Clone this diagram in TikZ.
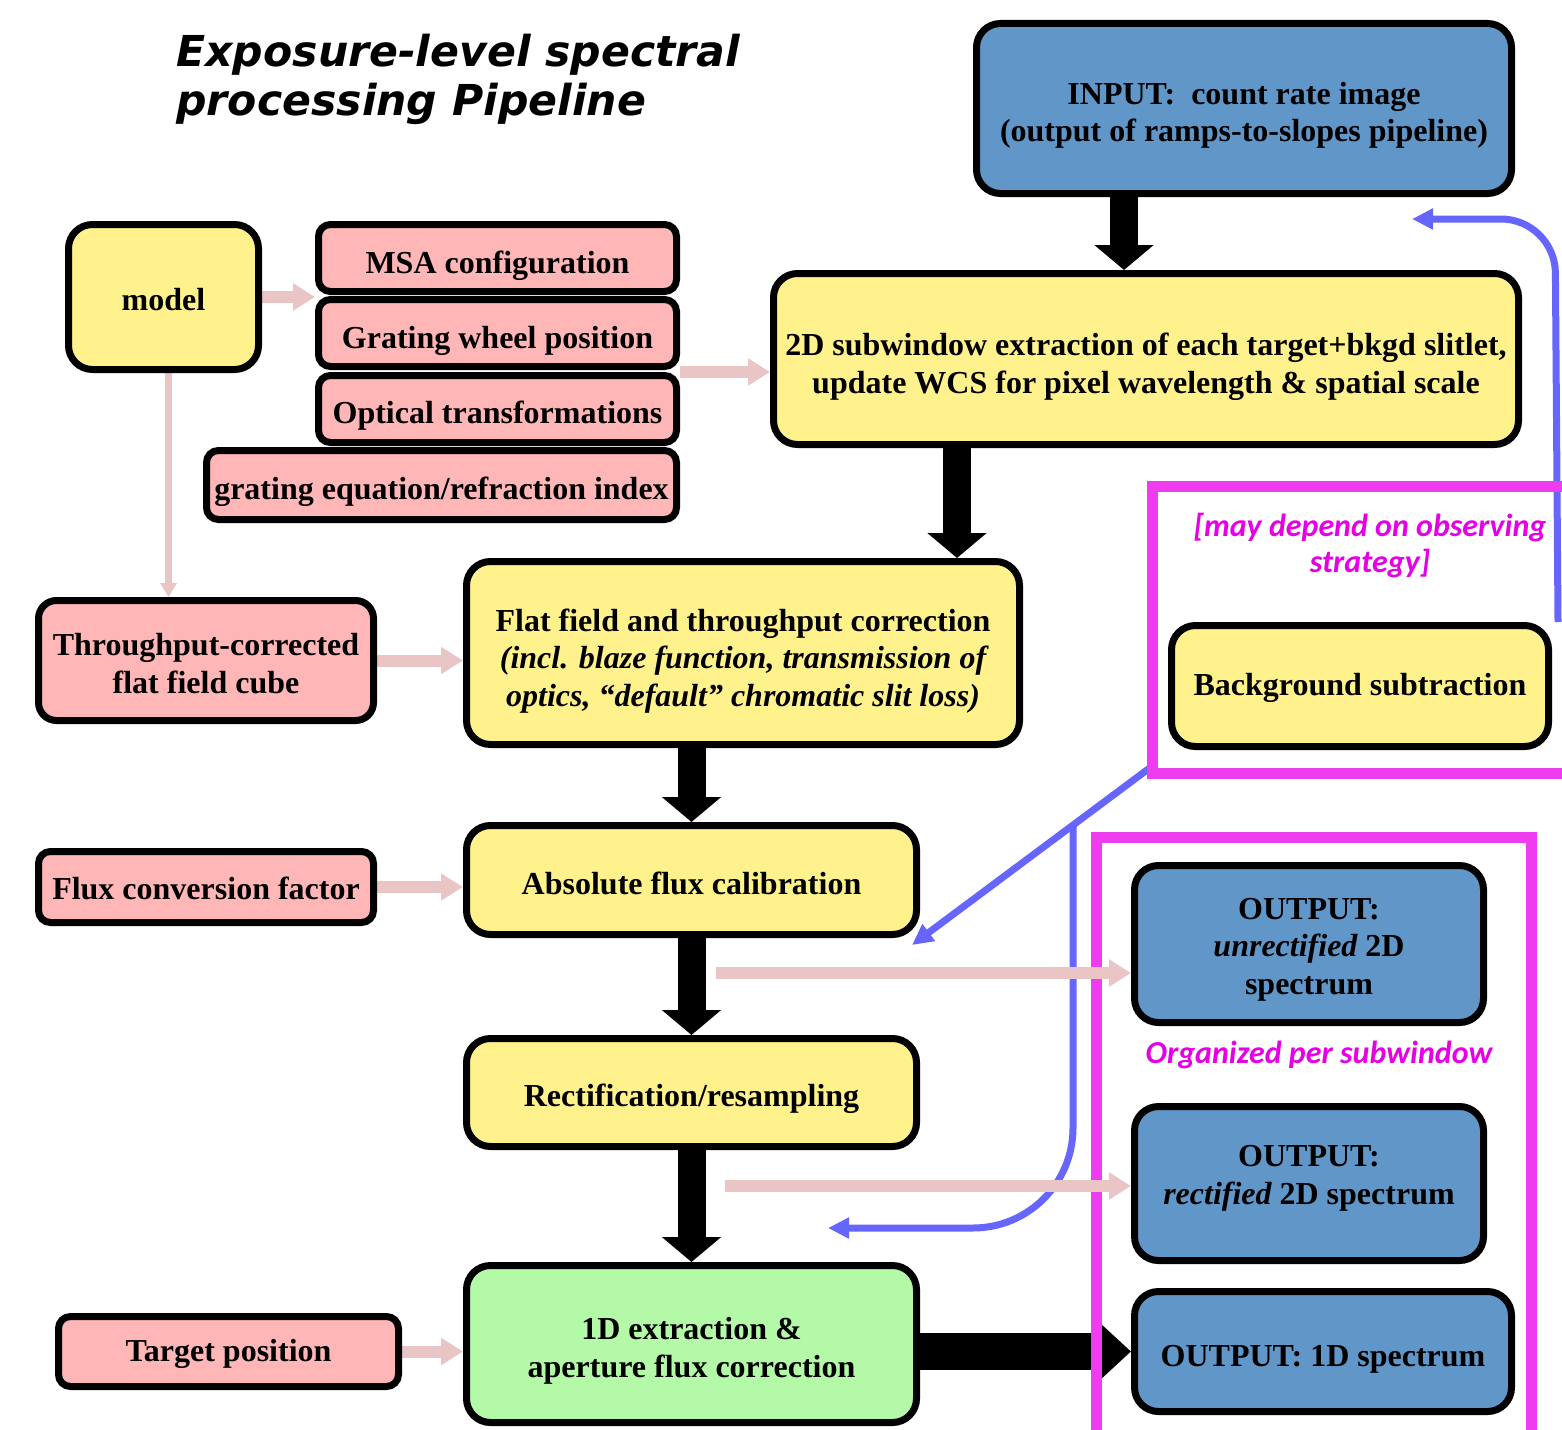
\documentclass[tikz,border=0pt]{standalone}
\usepackage{fontspec}
\setmainfont{Liberation Serif}
\newfontfamily\titlefont{DejaVu Sans}
\newfontfamily\calfont{Carlito}
\usetikzlibrary{arrows.meta}
\pgfdeclarelayer{back}
\pgfsetlayers{back,main}
\definecolor{yel}{HTML}{FFF28C}
\definecolor{pnk}{HTML}{FFB6B6}
\definecolor{blu}{HTML}{6096C8}
\definecolor{grn}{HTML}{B4F9A8}
\definecolor{pka}{HTML}{E9C5C5}
\definecolor{magl}{HTML}{EE3DEE}
\definecolor{magt}{HTML}{E600E6}
\definecolor{bla}{HTML}{6666FF}
\newcommand\boxfont{\fontsize{16}{18.8}\selectfont\bfseries}
% lower the text of a box by #1 px (adds height to the first line)
\newcommand\dn[1]{\rule{0pt}{\dimexpr 11pt+#1pt\relax}}
\tikzset{
  box/.style={draw=black, line width=3.5pt, rounded corners=12pt, align=center, inner sep=0pt, font=\boxfont},
  ybox/.style={box, fill=yel},
  pbox/.style={box, fill=pnk, rounded corners=6pt},
  bbox/.style={box, fill=blu},
  gbox/.style={box, fill=grn},
  blk/.style={draw=black, line width=14pt, -{Triangle[length=12.5pt,width=29pt]}},
  bigblk/.style={draw=black, line width=18.5pt, -{Triangle[length=18pt,width=32pt]}},
  pk/.style={draw=pka, line width=6pt, -{Triangle[length=11pt,width=13pt]}},
  pkthin/.style={draw=pka, line width=3.5pt, -{Triangle[length=7pt,width=8pt]}},
  bl/.style={draw=bla, line width=3.5pt, -{Triangle[length=10.5pt,width=10pt]}},
  magbox/.style={draw=magl, line width=5.5pt},
  magtext/.style={text=magt, align=center, inner sep=0pt, font=\calfont\bfseries\itshape\fontsize{16}{18}\selectfont},
}
\begin{document}
\begin{tikzpicture}[x=0.5pt,y=-0.5pt]
\useasboundingbox (0,0) rectangle (1562,1429);
\clip (0,0) rectangle (1562,1429);

% title
\node[anchor=north west, align=left, inner sep=0pt, font=\titlefont\bfseries\itshape\fontsize{21.3}{24.5}\selectfont] (title) at (176,34) {Exposure-level spectral\\processing Pipeline};

% boxes
\node[bbox, minimum width=267.5pt, minimum height=85pt] (inp) at (1244,108.5) {\dn{7}INPUT:\ \ count rate image\\(output of ramps-to-slopes pipeline)};
\node[ybox, minimum width=372.5pt, minimum height=85.5pt] (ext) at (1146,359) {\dn{8}2D subwindow extraction of each target+bkgd slitlet,\\update WCS for pixel wavelength \& spatial scale};
\node[ybox, minimum width=95pt, minimum height=72.5pt] (model) at (163.5,297) {\dn{3}model};
\node[pbox, minimum width=179pt, minimum height=33.5pt] (msa) at (497.5,258) {\dn{8}MSA configuration};
\node[pbox, minimum width=179pt, minimum height=33.5pt] (gw) at (497.5,333) {\dn{8}Grating wheel position};
\node[pbox, minimum width=179pt, minimum height=33.5pt] (opt) at (497.5,409) {\dn{7}Optical transformations};
\node[pbox, minimum width=235pt, minimum height=34.5pt] (geq) at (441.5,485) {\dn{7}grating equation/refraction index};
\node[pbox, rounded corners=9pt, minimum width=167.5pt, minimum height=60pt] (tfc) at (206,660.5) {\dn{3}Throughput-corrected\\flat field cube};
\node[ybox, minimum width=276.5pt, minimum height=91.5pt] (flat) at (743,653) {\dn{8}Flat field and throughput correction\\{\itshape (incl. blaze function, transmission of}\\{\itshape optics, “default” chromatic slit loss)}};
\node[ybox, minimum width=225pt, minimum height=54.5pt] (abs) at (691.5,880) {\dn{4}Absolute flux calibration};
\node[pbox, minimum width=167.5pt, minimum height=35.5pt] (fcf) at (206,887) {\dn{2}Flux conversion factor};
\node[ybox, minimum width=225pt, minimum height=54pt] (rect) at (691.5,1092.5) {\dn{7}Rectification/resampling};
\node[gbox, minimum width=225pt, minimum height=78.5pt] (oned) at (691.5,1344) {\dn{7}1D extraction \&\\aperture flux correction};
\node[pbox, minimum width=170pt, minimum height=35pt] (tpos) at (228.5,1351.5) {\dn{3}Target position};
\node[bbox, minimum width=174.5pt, minimum height=78.5pt] (outu) at (1309,944) {\dn{5}OUTPUT:\\{\itshape unrectified} 2D\\spectrum};
\node[bbox, minimum width=174.5pt, minimum height=77pt] (outr) at (1309,1183.5) {OUTPUT:\\{\itshape rectified} 2D spectrum\rule[-8.5pt]{0pt}{8.5pt}};
\node[bbox, minimum width=188.5pt, minimum height=60pt] (outone) at (1323,1351.5) {\dn{7}OUTPUT: 1D spectrum};
\node[ybox, minimum width=188.5pt, minimum height=60.5pt] (bg) at (1360,686) {\dn{2}Background subtraction};

% magenta notes
\node[magtext] (note1) at (1370,546) {[may depend on observing\\strategy]};
\node[magtext] (note2) at (1319,1055) {Organized per subwindow};

% free ends
\coordinate (bB) at (1555,219);
\coordinate (bC) at (1412,219);
\coordinate (dA) at (1155,764);
\coordinate (dB) at (912,945);
\coordinate (vA) at (1073,826);
\coordinate (vB) at (1073,1228);
\coordinate (vC) at (828,1228);
\coordinate (p1) at (716,973);
\coordinate (p2) at (725,1186);

\begin{pgfonlayer}{back}
  \draw[bigblk] (outone.west -| oned.east) -- (outone.west);
  \draw[bl, rounded corners=27pt] ([xshift=3pt]bg.north east) -- (bB) -- (bC);
  \draw[bl] (dA) -- (dB);
  \draw[bl, rounded corners=50pt] (vA) -- (vB) -- (vC);
  \draw[magbox] (1620,773) -- (1152,773) -- (1152,486) -- (1620,486);
  \draw[magbox] (1096,1500) -- (1096,837) -- (1531,837) -- (1531,1500);
  \draw[pk] (model.east) -- (model.east -| msa.west);
  \draw[pk] (opt.north east) -- (opt.north east -| ext.west);
  \draw[pkthin] ([xshift=2.5pt]model.south) -- ([xshift=2.5pt]model.south |- tfc.north);
  \draw[pk] (tfc.east) -- (tfc.east -| flat.west);
  \draw[pk] (fcf.east) -- (fcf.east -| abs.west);
  \draw[pk] (tpos.east) -- (tpos.east -| oned.west);
  \draw[pk] (p1) -- (p1 -| outu.west);
  \draw[pk] (p2) -- (p2 -| outr.west);
  \draw[blk] ([xshift=-60pt]inp.south) -- ([xshift=-60pt]inp.south |- ext.north);
  \draw[blk] ([xshift=-94.5pt]ext.south) -- ([xshift=-94.5pt]ext.south |- flat.north);
  \draw[blk] (abs.north |- flat.south) -- (abs.north);
  \draw[blk] (rect.north |- abs.south) -- (rect.north);
  \draw[blk] (oned.north |- rect.south) -- (oned.north);
\end{pgfonlayer}
\end{tikzpicture}
\end{document}
